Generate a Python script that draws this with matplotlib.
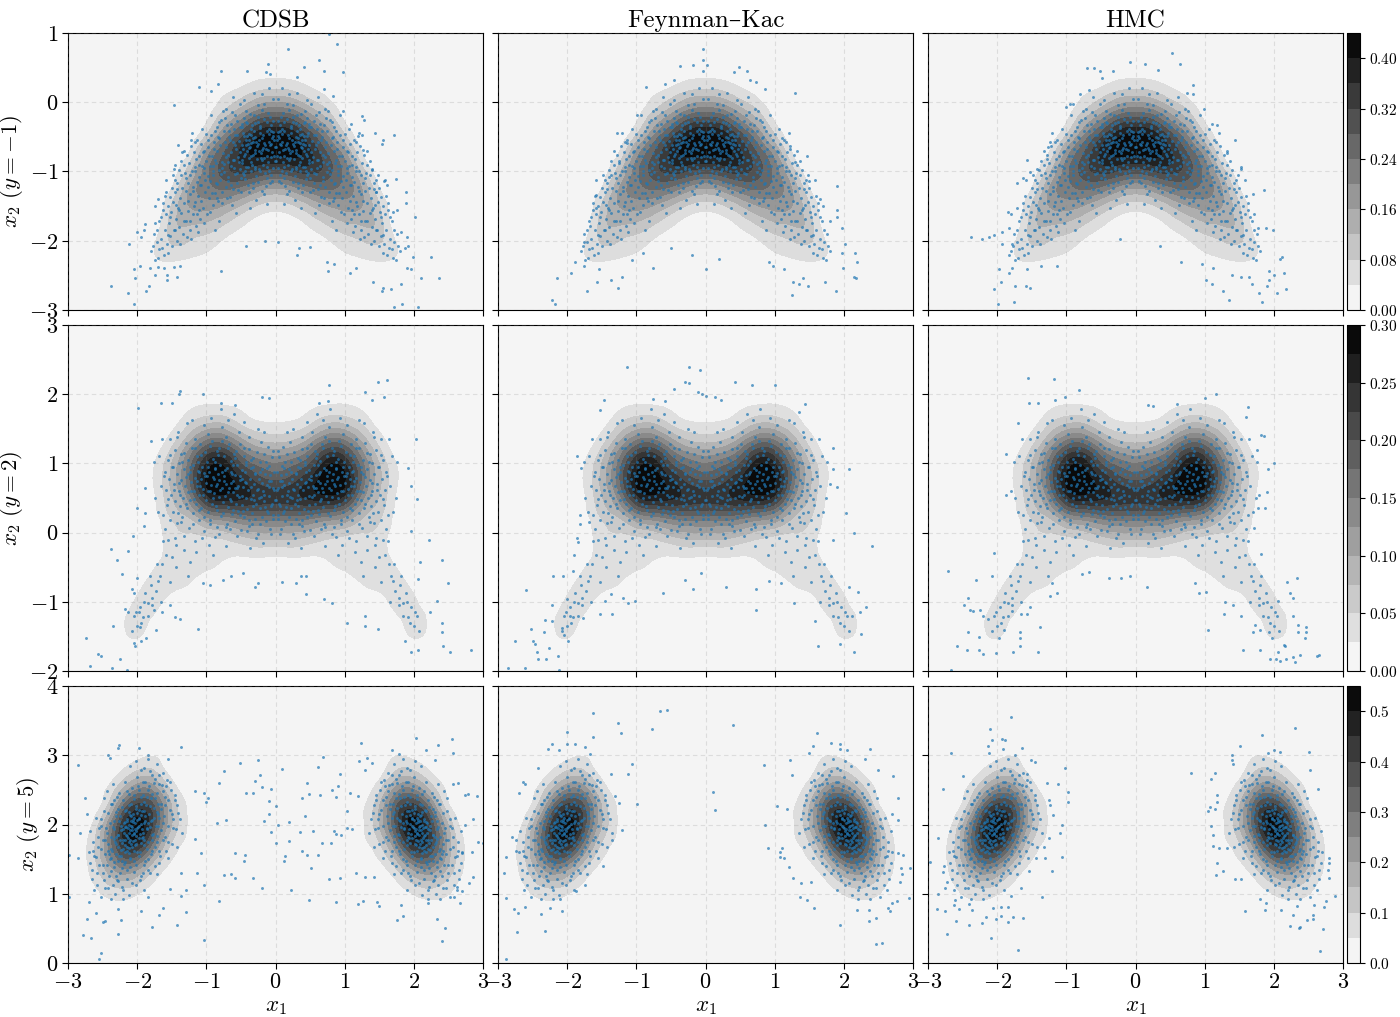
import numpy as np
import matplotlib
matplotlib.use("Agg")
import matplotlib.pyplot as plt
from matplotlib.tri import Triangulation, UniformTriRefiner

METHODS = ["CDSB", "Feynman–Kac", "HMC"]
Y_OBS = ["-1", "2", "5"]

# density, x1 >= 0 half (the picture is mirror symmetric)
GRID_X = [0, 0.25, 0.5, 0.75, 1, 1.25, 1.5, 1.75, 2, 2.25, 2.5, 2.75, 3]

GRID_Y_1 = [1, 0.75, 0.5, 0.25, 0, -0.25, -0.5, -0.75, -1, -1.25, -1.5, -1.75, -2, -2.25, -2.5, -2.75, -3]
DENS_1 = [
    [0, 0, 0, 0, 0, 0, 0, 0, 0, 0, 0, 0, 0],
    [.003, .003, .002, 0, 0, 0, 0, 0, 0, 0, 0, 0, 0],
    [.017, .015, .009, .005, .001, 0, 0, 0, 0, 0, 0, 0, 0],
    [.061, .055, .034, .02, .004, .001, 0, 0, 0, 0, 0, 0, 0],
    [.16, .143, .094, .053, .012, .002, 0, 0, 0, 0, 0, 0, 0],
    [.30, .278, .196, .119, .035, .006, 0, 0, 0, 0, 0, 0, 0],
    [.415, .394, .31, .207, .09, .016, .001, 0, 0, 0, 0, 0, 0],
    [.41, .41, .369, .281, .179, .044, .003, 0, 0, 0, 0, 0, 0],
    [.296, .316, .332, .297, .224, .105, .014, 0, 0, 0, 0, 0, 0],
    [.154, .178, .224, .244, .223, .159, .042, .001, 0, 0, 0, 0, 0],
    [.058, .074, .115, .157, .176, .16, .084, .003, 0, 0, 0, 0, 0],
    [.016, .022, .05, .085, .115, .125, .10, .012, .003, 0, 0, 0, 0],
    [.003, .005, .015, .036, .062, .08, .085, .036, .012, .001, 0, 0, 0],
    [.001, .001, .003, .012, .03, .04, .048, .036, .012, .002, 0, 0, 0],
    [0, 0, 0, .002, .008, .011, .012, .01, .008, .002, 0, 0, 0],
    [0, 0, 0, 0, .002, .002, .002, .002, .002, .001, 0, 0, 0],
    [0, 0, 0, 0, 0, 0, 0, 0, 0, 0, 0, 0, 0],
]

GRID_Y_2 = [3, 2.75, 2.5, 2.25, 2, 1.75, 1.5, 1.25, 1, 0.75, 0.5, 0.25, 0, -0.25, -0.5, -0.75, -1, -1.25, -1.5, -1.75, -2]
DENS_2 = [
    [0, 0, 0, 0, 0, 0, 0, 0, 0, 0, 0, 0, 0],
    [0, 0, 0, 0, 0, 0, 0, 0, 0, 0, 0, 0, 0],
    [0, 0, 0, 0, 0, 0, 0, 0, 0, 0, 0, 0, 0],
    [0, 0, 0, .001, .001, 0, 0, 0, 0, 0, 0, 0, 0],
    [.002, .002, .006, .011, .012, .006, .001, 0, 0, 0, 0, 0, 0],
    [.011, .013, .026, .038, .038, .026, .005, .001, 0, 0, 0, 0, 0],
    [.036, .041, .062, .097, .094, .06, .021, .004, 0, 0, 0, 0, 0],
    [.086, .096, .134, .186, .178, .112, .048, .012, .001, 0, 0, 0, 0],
    [.15, .165, .20, .265, .25, .158, .075, .024, .003, 0, 0, 0, 0],
    [.20, .215, .255, .295, .28, .168, .082, .028, .005, 0, 0, 0, 0],
    [.235, .24, .255, .262, .235, .135, .072, .022, .002, 0, 0, 0, 0],
    [.175, .175, .17, .155, .135, .082, .055, .016, .001, 0, 0, 0, 0],
    [.10, .098, .087, .069, .059, .05, .042, .009, 0, 0, 0, 0, 0],
    [.04, .042, .035, .032, .034, .038, .036, .011, .001, 0, 0, 0, 0],
    [.01, .011, .014, .02, .029, .036, .035, .024, .003, 0, 0, 0, 0],
    [.002, .002, .003, .004, .007, .024, .034, .036, .016, .001, 0, 0, 0],
    [0, 0, 0, 0, .002, .004, .012, .035, .03, .008, 0, 0, 0],
    [0, 0, 0, 0, 0, 0, .003, .018, .036, .017, .002, 0, 0],
    [0, 0, 0, 0, 0, 0, 0, .003, .028, .012, .001, 0, 0],
    [0, 0, 0, 0, 0, 0, 0, 0, .002, .001, 0, 0, 0],
    [0, 0, 0, 0, 0, 0, 0, 0, 0, 0, 0, 0, 0],
]

GRID_Y_3 = [4, 3.75, 3.5, 3.25, 3, 2.75, 2.5, 2.25, 2, 1.75, 1.5, 1.25, 1, 0.75, 0.5, 0.25, 0]
DENS_3 = [
    [0, 0, 0, 0, 0, 0, 0, 0, 0, 0, 0, 0, 0],
    [0, 0, 0, 0, 0, 0, 0, 0, 0, 0, 0, 0, 0],
    [0, 0, 0, 0, 0, 0, 0, 0, 0, 0, 0, 0, 0],
    [0, 0, 0, 0, 0, .002, .008, .013, .008, .004, .001, 0, 0],
    [0, 0, 0, 0, .001, .008, .024, .047, .035, .014, .003, 0, 0],
    [0, 0, 0, 0, .002, .012, .03, .11, .111, .05, .012, .001, 0],
    [0, 0, 0, 0, .004, .02, .09, .23, .255, .136, .037, .005, 0],
    [0, 0, 0, 0, .005, .04, .149, .353, .428, .268, .065, .008, .001],
    [0, 0, 0, 0, .005, .042, .15, .37, .527, .386, .145, .018, .002],
    [0, 0, 0, 0, .003, .035, .10, .283, .473, .407, .179, .041, .004],
    [0, 0, 0, 0, .001, .012, .052, .159, .311, .314, .163, .043, .005],
    [0, 0, 0, 0, 0, .003, .018, .065, .149, .177, .107, .034, .005],
    [0, 0, 0, 0, 0, 0, .004, .02, .053, .073, .052, .019, .003],
    [0, 0, 0, 0, 0, 0, 0, .004, .014, .022, .018, .008, .001],
    [0, 0, 0, 0, 0, 0, 0, 0, .003, .005, .006, .002, 0],
    [0, 0, 0, 0, 0, 0, 0, 0, 0, 0, 0, 0, 0],
    [0, 0, 0, 0, 0, 0, 0, 0, 0, 0, 0, 0, 0],
]

# dense part of the clouds, read for x1 >= 0 and drawn on both sides
CORE_1 = [
    (0.02, -0.55), (0.05, -0.72), (0.09, -0.38), (0.12, -0.93), (0.15, -0.62), (0.18, -0.48), (0.21, -0.81), (0.03, -0.27),
    (0.07, -1.05), (0.11, -0.15), (0.14, -1.21), (0.17, -0.02), (0.2, -0.69), (0.23, -0.34), (0.01, -0.85), (0.06, -0.6),
    (0.1, -0.46), (0.13, -0.77), (0.16, -1.33), (0.19, 0.12), (0.22, -0.99), (0.04, 0.05), (0.08, -0.21), (0.24, -0.55),
    (0.12, -1.47), (0.05, -1.13), (0.18, -0.66), (0.09, 0.21), (0.2, -0.11), (0.03, -0.43),
    (0.27, -0.63), (0.31, -0.41), (0.35, -0.87), (0.39, -0.55), (0.43, -0.28), (0.47, -1.02), (0.29, -0.74), (0.33, -1.16),
    (0.37, -0.17), (0.41, -0.71), (0.45, -0.49), (0.49, -0.83), (0.26, -0.04), (0.3, -0.96), (0.34, -0.33), (0.38, -1.29),
    (0.42, -0.62), (0.46, 0.03), (0.28, -1.41), (0.32, -0.52), (0.36, -0.78), (0.4, -0.93), (0.44, -1.11), (0.48, -0.36),
    (0.25, -0.22), (0.31, 0.14), (0.37, -1.52), (0.43, -0.12), (0.47, -0.67), (0.35, -0.59),
    (0.52, -0.72), (0.56, -0.48), (0.6, -0.95), (0.64, -0.31), (0.68, -1.13), (0.72, -0.65), (0.54, -1.26), (0.58, -0.18),
    (0.62, -0.83), (0.66, -0.55), (0.7, -1.38), (0.74, -0.89), (0.51, -0.03), (0.55, -1.02), (0.59, -0.62), (0.63, -1.49),
    (0.67, -0.41), (0.71, -0.1), (0.53, -0.86), (0.57, -1.6), (0.61, 0.08), (0.65, -1.2), (0.69, -0.76), (0.73, -0.23),
    (0.5, -1.1), (0.6, -0.38),
    (0.77, -0.95), (0.8, -0.62), (0.84, -1.18), (0.88, -0.42), (0.92, -1.31), (0.96, -0.78), (0.78, -1.45), (0.82, -0.28),
    (0.86, -0.88), (0.9, -1.05), (0.94, -1.58), (0.98, -0.55), (0.76, -0.12), (0.81, -1.72), (0.85, -1.38), (0.89, -0.68),
    (0.93, -0.18), (0.97, -1.22), (0.79, -1.03), (0.83, -0.5), (0.87, -1.85), (0.91, -0.92),
    (1.02, -1.12), (1.05, -0.72), (1.08, -1.42), (1.11, -0.9), (1.14, -1.62), (1.17, -0.58), (1.2, -1.28), (1.23, -1.05),
    (1.03, -1.75), (1.06, -0.38), (1.09, -1.2), (1.12, -1.88), (1.15, -0.82), (1.18, -1.5), (1.21, -0.45), (1.24, -1.72),
    (1.04, -0.95), (1.1, -1.55), (1.16, -1.0), (1.22, -1.98),
    (1.27, -1.42), (1.3, -1.1), (1.33, -1.72), (1.36, -0.85), (1.39, -1.55), (1.42, -1.25), (1.45, -1.85), (1.48, -1.05),
    (1.28, -1.95), (1.32, -0.7), (1.38, -2.05), (1.44, -1.48),
    (1.52, -1.65), (1.56, -1.92), (1.6, -1.35), (1.64, -2.1), (1.68, -1.72), (1.72, -2.02), (1.55, -2.18), (1.62, -1.55),
    (1.7, -2.25), (1.76, -1.9), (1.8, -2.15), (1.58, -1.12),
    (0.01, -0.64), (0.03, -0.95), (0.04, -0.49), (0.06, -0.79), (0.07, -0.33), (0.08, -1.17), (0.1, -0.57), (0.11, -0.87),
    (0.13, -0.42), (0.14, -0.68), (0.15, -1.02), (0.16, -0.24), (0.18, -0.91), (0.19, -0.52), (0.2, -1.28), (0.21, -0.74),
    (0.23, -0.44), (0.24, -0.96), (0.25, -0.61), (0.26, -0.29), (0.27, -0.82), (0.28, -1.07), (0.29, -0.5), (0.3, -0.69),
    (0.31, -0.19), (0.32, -1.24), (0.33, -0.58), (0.34, -0.9), (0.35, -0.38), (0.36, -1.0), (0.37, -0.65), (0.38, -0.46),
    (0.39, -0.8), (0.4, -1.19), (0.41, -0.3), (0.42, -0.94), (0.43, -0.54), (0.44, -0.75), (0.45, -0.23), (0.46, -1.05),
    (0.47, -0.44), (0.48, -0.88), (0.49, -0.62), (0.5, -1.3), (0.51, -0.36), (0.52, -0.97), (0.53, -0.56), (0.54, -0.79),
    (0.55, -1.16), (0.56, -0.27), (0.57, -0.68), (0.58, -1.04), (0.59, -0.47), (0.6, -0.84), (0.61, -1.25), (0.62, -0.58),
    (0.63, -0.14), (0.64, -0.92), (0.65, -0.72), (0.66, -1.37), (0.67, -0.5), (0.68, -0.86), (0.69, -1.08), (0.7, -0.33),
    (0.71, -0.79), (0.72, -1.22), (0.73, -0.57), (0.74, -1.01), (0.75, -0.42), (0.76, -0.74), (0.77, -1.29), (0.78, -0.87),
    (0.79, -0.25), (0.8, -1.12), (0.81, -0.52), (0.82, -0.98), (0.83, -1.42), (0.84, -0.71), (0.85, -0.36), (0.86, -1.17),
    (0.87, -0.83), (0.88, -1.31), (0.89, -0.58), (0.9, -0.99), (0.91, -1.49), (0.92, -0.77), (0.93, -0.47), (0.94, -1.14),
    (0.95, -0.92), (0.96, -1.38), (0.97, -0.64), (0.98, -1.07), (0.99, -1.62), (1.0, -0.85), (1.01, -0.46), (1.02, -1.3),
    (1.03, -1.02), (1.04, -0.7), (1.05, -1.52), (1.06, -0.92), (1.07, -1.2), (1.08, -0.61), (1.09, -1.68), (1.1, -1.08),
    (1.11, -0.78), (1.12, -1.36), (1.13, -0.55), (1.14, -1.15), (1.15, -1.78), (1.16, -0.93), (1.17, -1.44), (1.18, -0.72),
    (1.19, -1.22), (1.2, -1.62), (1.21, -1.0), (1.22, -0.63), (1.23, -1.33), (1.24, -1.85), (1.25, -0.88), (1.26, -1.16),
    (1.27, -1.57), (1.28, -0.76), (1.29, -1.28), (1.3, -1.72), (1.31, -1.02), (1.32, -1.45), (1.33, -0.9), (1.34, -1.9),
    (1.35, -1.24), (1.36, -1.6), (1.37, -1.05), (1.38, -1.38), (1.39, -1.8), (1.4, -0.98), (1.41, -1.52), (1.42, -2.0),
    (1.43, -1.17), (1.44, -1.68), (1.45, -1.3), (1.46, -1.12), (1.47, -1.85), (1.48, -1.44), (1.49, -2.08), (1.5, -1.24),
    (1.51, -1.58), (1.52, -1.93), (1.53, -1.37), (1.54, -1.75), (1.56, -1.5), (1.57, -2.05), (1.59, -1.62), (1.6, -1.85),
    (1.61, -2.2), (1.63, -1.45), (1.65, -1.97), (1.66, -1.65), (1.69, -2.12), (1.71, -1.85), (1.74, -2.28), (1.77, -2.08),
    (0.02, -0.77), (0.05, -0.52), (0.09, -1.0), (0.12, -0.28), (0.17, -0.59), (0.19, -0.83), (0.22, -0.37), (0.28, -0.57),
    (0.3, -0.3), (0.33, -0.76), (0.38, -0.66), (0.41, -0.49), (0.44, -0.99), (0.48, -0.31), (0.06, -0.41), (0.11, -0.69),
    (0.16, -0.81), (0.24, -0.71), (0.29, -0.94), (0.35, -0.47), (0.4, -0.6), (0.46, -0.77), (0.13, -1.1), (0.26, -1.15), (0.08, -0.62),
]

CORE_2 = [
    (0.02, 0.61), (0.05, 0.42), (0.08, 0.83), (0.11, 0.28), (0.14, 1.02), (0.17, 0.55), (0.2, 0.71), (0.23, 0.12),
    (0.03, 1.18), (0.06, -0.02), (0.09, 0.66), (0.12, 0.93), (0.15, 0.37), (0.18, -0.15), (0.21, 1.31), (0.24, 0.5),
    (0.04, 0.2), (0.1, 0.75), (0.16, 1.45), (0.22, 0.88),
    (0.27, 0.62), (0.3, 0.85), (0.33, 0.38), (0.36, 1.05), (0.39, 0.18), (0.42, 0.72), (0.45, 1.22), (0.48, 0.53),
    (0.28, -0.08), (0.32, 0.95), (0.35, 0.66), (0.38, 1.38), (0.41, 0.02), (0.44, 0.88), (0.47, 0.31), (0.26, 1.5),
    (0.31, 0.47), (0.37, -0.22), (0.43, 1.02), (0.49, 0.78), (0.34, 0.12), (0.46, 1.6),
    (0.52, 0.82), (0.55, 0.55), (0.58, 1.08), (0.61, 0.33), (0.64, 0.72), (0.67, 1.28), (0.7, 0.12), (0.73, 0.91),
    (0.53, 1.45), (0.56, -0.05), (0.59, 0.65), (0.62, 0.98), (0.65, 0.45), (0.68, 1.62), (0.71, -0.2), (0.74, 0.75),
    (0.51, 0.25), (0.57, 1.18), (0.63, 0.85), (0.69, 0.58), (0.72, 1.38), (0.66, 0.05), (0.54, 0.68), (0.6, 1.72),
    (0.77, 0.88), (0.8, 0.62), (0.83, 1.12), (0.86, 0.38), (0.89, 0.78), (0.92, 1.32), (0.95, 0.18), (0.98, 0.95),
    (0.78, 1.52), (0.81, -0.02), (0.84, 0.7), (0.87, 1.02), (0.9, 0.5), (0.93, 1.65), (0.96, -0.18), (0.99, 0.82),
    (0.76, 0.28), (0.82, 1.22), (0.88, 0.92), (0.94, 0.6), (0.79, 1.78), (0.85, 0.08), (0.91, -0.32), (0.97, 1.42),
    (1.02, 0.82), (1.05, 0.55), (1.08, 1.12), (1.11, 0.32), (1.14, 0.75), (1.17, 1.35), (1.2, 0.12), (1.23, 0.95),
    (1.03, 1.55), (1.06, -0.08), (1.09, 0.68), (1.12, 1.02), (1.15, -0.28), (1.18, 0.48), (1.21, 1.62), (1.24, -0.42),
    (1.04, 0.22), (1.1, 0.88), (1.16, 1.22), (1.22, 0.6),
    (1.27, 0.85), (1.3, 0.42), (1.33, 1.15), (1.36, 0.15), (1.39, 0.72), (1.42, 1.38), (1.45, -0.08), (1.48, 0.95),
    (1.28, 1.58), (1.32, -0.25), (1.38, 0.55), (1.44, -0.5), (1.26, -0.62), (1.35, 1.02), (1.41, 0.28), (1.47, 0.62),
    (1.52, 1.12), (1.55, 0.48), (1.58, -0.32), (1.61, 0.82), (1.64, 1.35), (1.67, -0.62), (1.7, 0.3), (1.73, -0.85),
    (1.53, -0.72), (1.6, 0.05), (1.76, 1.02), (1.8, -0.75), (1.84, -1.02), (1.88, -0.88), (1.92, -1.22), (1.96, -1.08),
    (2.0, -1.35), (2.04, -1.2), (1.72, -0.45), (1.66, -1.0), (1.85, -1.2), (1.62, -0.12), (2.08, -1.42), (1.78, -1.05),
    (0.01, 0.47), (0.02, 0.88), (0.03, 0.26), (0.04, 0.65), (0.05, 1.09), (0.06, 0.38), (0.07, 0.74), (0.08, 0.05),
    (0.09, 0.96), (0.1, 0.53), (0.11, 1.24), (0.12, 0.31), (0.13, 0.69), (0.14, 0.17), (0.15, 0.84), (0.16, 0.45),
    (0.17, 1.13), (0.18, 0.6), (0.19, 0.23), (0.2, 0.92), (0.21, 0.52), (0.22, 1.02), (0.23, 0.36), (0.24, 0.78),
    (0.25, -0.02), (0.26, 0.63), (0.27, 1.17), (0.28, 0.41), (0.29, 0.86), (0.3, 0.2), (0.31, 0.7), (0.32, 1.08),
    (0.33, 0.55), (0.34, 0.29), (0.35, 0.93), (0.36, 0.48), (0.37, 0.78), (0.38, 0.1), (0.39, 1.21), (0.4, 0.62),
    (0.41, 0.34), (0.42, 0.98), (0.43, 0.5), (0.44, 0.73), (0.45, 0.22), (0.46, 1.1), (0.47, 0.66), (0.48, 0.4),
    (0.49, 0.9), (0.5, 0.04), (0.51, 0.76), (0.52, 1.28), (0.53, 0.52), (0.54, 0.31), (0.55, 0.98), (0.56, 0.64),
    (0.57, 0.42), (0.58, 0.83), (0.59, 0.17), (0.6, 1.14), (0.61, 0.58), (0.62, 0.74), (0.63, 0.27), (0.64, 1.03),
    (0.65, 0.87), (0.66, 0.49), (0.67, 0.65), (0.68, 1.22), (0.69, 0.37), (0.7, 0.94), (0.71, 0.7), (0.72, 0.08),
    (0.73, 0.53), (0.74, 1.1), (0.75, 0.82), (0.76, 0.44), (0.77, 0.64), (0.78, 1.33), (0.79, 0.24), (0.8, 0.98),
    (0.81, 0.76), (0.82, 0.51), (0.83, 0.85), (0.84, 1.18), (0.85, 0.33), (0.86, 0.67), (0.87, 0.93), (0.88, -0.06),
    (0.89, 0.57), (0.9, 1.07), (0.91, 0.8), (0.92, 0.41), (0.93, 0.69), (0.94, 1.25), (0.95, 0.13), (0.96, 0.88),
    (0.97, 0.6), (0.98, 0.3), (0.99, 1.02), (1.0, 0.72), (1.01, 0.47), (1.02, 1.17), (1.03, 0.86), (1.04, 0.02),
    (1.05, 0.63), (1.06, 0.95), (1.07, 0.36), (1.08, 0.77), (1.09, 1.28), (1.1, 0.54), (1.11, 0.18), (1.12, 0.89),
    (1.13, 0.68), (1.14, 1.1), (1.15, 0.42), (1.16, 0.79), (1.17, -0.12), (1.18, 0.6), (1.19, 0.98), (1.2, 0.28),
    (1.21, 1.22), (1.22, 0.73), (1.23, 0.47), (1.24, 0.88), (1.25, 0.07), (1.26, 1.05), (1.27, 0.58), (1.28, 0.35),
    (1.29, 0.8), (1.3, 1.3), (1.31, 0.68), (1.32, -0.05), (1.33, 0.92), (1.34, 0.5), (1.35, 0.22), (1.36, 1.13),
    (1.37, 0.76), (1.38, 0.38), (1.39, 1.0), (1.4, 0.6), (1.41, 1.45), (1.42, 0.14), (1.43, 0.84), (1.44, -0.18),
    (1.45, 0.46), (1.46, 1.2), (1.47, 0.7), (1.48, 0.3), (1.49, 0.95), (1.5, -0.35), (1.51, 0.55), (1.52, 1.35),
    (1.53, 0.18), (1.54, 0.78), (1.55, -0.1), (1.56, 1.05), (1.57, 0.4), (1.58, 0.62), (1.6, 0.87), (1.62, 0.25),
    (1.64, -0.45), (1.66, 0.68), (1.68, 1.1), (1.7, -0.7), (1.74, 0.5), (1.78, -0.95), (1.82, -0.62), (1.9, -1.0), (1.94, -1.3), (2.02, -1.15),
]

CORE_3 = [
    (1.72, 2.88), (1.85, 2.95), (1.95, 2.78), (2.1, 2.85), (1.62, 2.75), (1.78, 2.72), (2.02, 2.92), (1.9, 2.82),
    (1.52, 2.62), (1.63, 2.48), (1.74, 2.66), (1.83, 2.55), (1.92, 2.42), (2.0, 2.68), (2.08, 2.52), (2.18, 2.62),
    (2.26, 2.45), (1.45, 2.42), (1.68, 2.58), (1.88, 2.62), (1.97, 2.5), (2.12, 2.44), (2.35, 2.58), (1.78, 2.44), (1.58, 2.55),
    (1.42, 2.28), (1.55, 2.35), (1.65, 2.22), (1.74, 2.38), (1.82, 2.26), (1.9, 2.33), (1.98, 2.21), (2.05, 2.37),
    (2.12, 2.28), (2.2, 2.35), (2.28, 2.23), (2.38, 2.3), (2.48, 2.38), (1.7, 2.3), (1.86, 2.39), (1.95, 2.3),
    (2.02, 2.27), (2.16, 2.21), (2.33, 2.36), (1.6, 2.28),
    (1.38, 2.08), (1.5, 2.15), (1.62, 2.02), (1.72, 2.18), (1.8, 2.05), (1.88, 2.12), (1.94, 2.01), (2.0, 2.16),
    (2.06, 2.06), (2.12, 2.18), (2.18, 2.03), (2.25, 2.12), (2.33, 2.05), (2.42, 2.16), (2.52, 2.08), (1.76, 2.1),
    (1.9, 2.19), (1.98, 2.08), (2.03, 2.02), (2.09, 2.12), (2.15, 2.08), (2.3, 2.18), (1.68, 2.09), (1.84, 2.02),
    (1.35, 1.88), (1.48, 1.95), (1.6, 1.82), (1.7, 1.98), (1.78, 1.85), (1.86, 1.93), (1.93, 1.81), (1.99, 1.96),
    (2.04, 1.86), (2.09, 1.98), (2.14, 1.83), (2.2, 1.93), (2.27, 1.85), (2.35, 1.97), (2.44, 1.88), (2.55, 1.95),
    (2.01, 1.9), (2.07, 1.92), (2.12, 1.88), (1.96, 1.87), (2.18, 1.97), (1.82, 1.96), (2.3, 1.82), (1.72, 1.83),
    (1.42, 1.68), (1.55, 1.75), (1.68, 1.62), (1.78, 1.78), (1.86, 1.65), (1.94, 1.73), (2.0, 1.61), (2.06, 1.76),
    (2.12, 1.66), (2.18, 1.78), (2.24, 1.63), (2.3, 1.72), (2.38, 1.65), (2.46, 1.77), (2.56, 1.68), (2.64, 1.62),
    (2.03, 1.7), (2.09, 1.72), (2.15, 1.68), (1.9, 1.78), (2.22, 1.74), (2.34, 1.79), (1.74, 1.68), (2.42, 1.62),
    (1.55, 1.52), (1.68, 1.45), (1.8, 1.58), (1.9, 1.42), (1.98, 1.55), (2.05, 1.47), (2.12, 1.59), (2.19, 1.43),
    (2.26, 1.54), (2.33, 1.46), (2.41, 1.58), (2.5, 1.42), (2.6, 1.53), (2.68, 1.45), (2.1, 1.5), (2.22, 1.48), (1.85, 1.5), (2.38, 1.52),
    (1.72, 1.28), (1.85, 1.35), (1.96, 1.2), (2.05, 1.32), (2.14, 1.22), (2.22, 1.37), (2.3, 1.25), (2.38, 1.33),
    (2.48, 1.2), (2.58, 1.3), (2.66, 1.22), (2.1, 1.38), (2.28, 1.18), (1.92, 1.3),
    (1.9, 1.05), (2.02, 1.12), (2.12, 0.98), (2.22, 1.1), (2.32, 1.0), (2.42, 1.08), (2.52, 0.95), (2.62, 1.05), (2.2, 0.92), (2.38, 0.93),
    (1.41, 2.17), (1.44, 1.93), (1.46, 2.36), (1.48, 2.08), (1.5, 1.72), (1.51, 2.5), (1.53, 2.21), (1.55, 1.98), (1.57, 2.64), (1.58, 1.62), (1.6, 2.4),
    (1.61, 2.12), (1.62, 1.78), (1.64, 2.57), (1.65, 1.92), (1.66, 2.3), (1.67, 1.55), (1.69, 2.72), (1.7, 2.15), (1.71, 1.75), (1.72, 2.45),
    (1.73, 1.98), (1.74, 1.4), (1.75, 2.6), (1.76, 2.24), (1.77, 1.86), (1.78, 2.07), (1.79, 1.62), (1.8, 2.38), (1.81, 1.3), (1.82, 2.77),
    (1.83, 2.15), (1.84, 1.75), (1.85, 2.5), (1.86, 1.95), (1.87, 2.28), (1.88, 1.48), (1.89, 2.05), (1.9, 1.7), (1.91, 2.62), (1.92, 1.88),
    (1.93, 2.2), (1.94, 1.25), (1.95, 2.4), (1.96, 1.6), (1.97, 2.1), (1.98, 1.8), (1.99, 2.55), (1.9, 2.02), (1.93, 1.93), (1.97, 1.98), (1.94, 2.13), (1.91, 1.82),
    (2.0, 1.95), (2.01, 1.42), (2.02, 2.22), (2.03, 1.78), (2.04, 2.42), (2.05, 1.62), (2.06, 2.03), (2.07, 1.15), (2.08, 1.85), (2.09, 2.3),
    (2.0, 2.07), (2.01, 1.72), (2.03, 1.94), (2.05, 1.88), (2.06, 2.15), (2.08, 1.97), (2.04, 2.1), (2.02, 1.83), (2.07, 1.68), (2.09, 2.05),
    (2.1, 1.52), (2.11, 2.14), (2.12, 1.75), (2.13, 1.95), (2.14, 2.48), (2.15, 1.35), (2.16, 1.85), (2.17, 2.2), (2.18, 1.6), (2.19, 2.02),
    (2.11, 1.92), (2.13, 1.8), (2.15, 2.05), (2.17, 1.7), (2.19, 1.88), (2.12, 2.0), (2.14, 1.62), (2.16, 1.97), (2.18, 1.46), (2.1, 1.78),
    (2.2, 1.78), (2.21, 1.05), (2.22, 2.25), (2.23, 1.55), (2.24, 1.92), (2.25, 1.3), (2.26, 2.05), (2.27, 1.68), (2.28, 1.85), (2.29, 2.4),
    (2.21, 1.65), (2.23, 1.98), (2.25, 1.77), (2.27, 1.48), (2.29, 1.2), (2.3, 1.58), (2.31, 2.12), (2.32, 1.75), (2.33, 1.38), (2.34, 1.93),
    (2.35, 1.12), (2.36, 2.3), (2.37, 1.62), (2.38, 1.82), (2.39, 1.5), (2.4, 2.02), (2.41, 1.25), (2.42, 1.72), (2.43, 2.48), (2.44, 1.42),
    (2.45, 1.95), (2.46, 1.58), (2.47, 1.08), (2.48, 2.2), (2.49, 1.78), (2.5, 1.3), (2.52, 1.65), (2.53, 1.98), (2.55, 1.42), (2.57, 1.82),
    (2.58, 1.12), (2.6, 2.1), (2.62, 1.55), (2.64, 1.75), (2.66, 1.35), (2.68, 1.9), (2.7, 1.6),
]

# sparse points of each panel, read one by one
OUT_CDSB_1 = [
    (.78, .99), (.89, .84), (.18, .77), (.63, .61), (.41, .51), (.70, .45), (.98, .43), (-.11, .55), (-.79, .45), (-.41, .45),
    (.31, .36), (-.14, .43), (-.08, .41), (-.83, .27), (-1.10, .22), (-.93, .16), (.70, .19), (.83, .09), (-1.47, -.04), (.98, -.13),
    (1.09, -.32), (1.25, -.20), (1.28, -.25), (1.19, -.49), (1.25, -.47), (1.44, -.45), (1.72, -.48), (1.56, -.54), (1.54, -.61),
    (1.26, -.69), (-1.22, -.55), (-1.41, -.62), (-1.35, -.72), (-1.45, -.90), (-1.47, -.96), (1.40, -.96), (1.57, -1.13), (1.61, -1.19),
    (1.74, -1.11), (1.45, -1.30), (1.88, -1.30), (1.89, -1.46), (1.76, -1.56), (1.70, -1.58), (2.02, -1.65), (-1.58, -1.29), (-1.70, -1.40),
    (-1.74, -1.50), (-1.74, -1.74), (-1.89, -1.76), (-1.90, -1.84), (-2.00, -1.88), (-1.94, -1.94), (1.82, -1.87), (1.90, -1.94),
    (1.92, -2.07), (-2.12, -2.04), (1.87, -2.11), (1.99, -2.24), (2.25, -2.24), (1.90, -2.40), (1.96, -2.41), (2.11, -2.54), (2.37, -2.54),
    (1.82, -2.63), (1.55, -2.68), (1.67, -2.69), (1.54, -2.73), (1.72, -2.96), (1.83, -2.91), (2.06, -2.96), (1.41, -2.59), (1.08, -2.46),
    (1.17, -2.40), (.85, -2.33), (.75, -2.31), (.76, -2.43), (.31, -2.21), (-.79, -2.44), (-2.38, -2.65), (-2.13, -2.76), (-2.04, -2.91),
    (-2.04, -2.41), (-2.03, -2.54), (-1.96, -2.36), (-1.83, -2.65), (-1.87, -2.72), (-1.81, -2.40), (-1.74, -2.50), (-1.57, -2.50),
    (-1.57, -2.57), (-1.42, -2.53), (-1.38, -2.37), (-1.47, -2.38), (-1.70, -2.38), (-1.61, -2.40), (-.42, -2.08), (.04, -2.02), (-.15, -2.00),
    (.34, -2.11), (.50, -2.09),
]
OUT_FK_1 = [
    (-.03, .77), (-.03, .61), (-.18, .54), (-.37, .52), (.02, .54), (-.03, .45), (.49, .51), (.41, .43), (.60, .45), (-.58, .27), (-.45, .32),
    (-.86, .22), (.86, .19), (1.30, .14), (.65, .32), (.73, .29), (-.99, -.19), (-1.28, -.45), (-1.13, -.59), (1.11, -.52), (1.22, -.68),
    (1.47, -.78), (1.30, -.87), (1.50, -1.13), (-1.25, -.85), (-1.39, -1.08), (1.90, -1.21), (1.66, -1.39), (1.70, -1.50), (-1.58, -1.34),
    (-1.59, -1.52), (1.90, -1.55), (1.90, -1.65), (1.80, -1.71), (1.98, -1.82), (-1.67, -1.78), (-1.75, -2.02), (2.02, -2.04), (2.16, -2.17),
    (2.19, -2.30), (1.98, -2.18), (1.99, -2.40), (2.15, -2.52), (2.18, -2.54), (1.89, -2.72), (1.73, -2.60), (1.48, -2.65), (1.35, -2.63),
    (1.41, -2.54), (1.25, -2.78), (1.27, -2.59), (1.14, -2.41), (.98, -2.36), (.92, -2.31), (.20, -2.26), (.00, -2.41), (-.76, -2.39),
    (-.19, -2.20), (-.50, -2.11), (-.90, -2.18), (-1.06, -2.28), (-1.21, -2.52), (-1.26, -2.68), (-1.36, -2.57), (-1.57, -2.60), (-1.71, -2.73),
    (-1.54, -2.41), (-1.75, -2.37), (-1.94, -2.46), (-1.88, -2.30), (-2.14, -2.54), (-2.22, -2.85), (-2.17, -2.91),
]
OUT_HMC_1 = [
    (.53, .71), (.65, .55), (.14, .55), (-.08, .58), (-.70, .49), (-.60, .49), (-.51, .45), (-.32, .45), (.33, .46), (-.48, .35), (.83, .25),
    (.75, .14), (.83, .12), (-.80, .12), (-.67, .17), (-1.00, -.07), (-.94, -.03), (-.90, -.03), (.99, -.10), (1.11, -.32), (1.18, -.33),
    (1.44, -.55), (1.33, -.74), (1.52, -.93), (1.53, -.97), (-1.24, -.58), (-1.26, -.65), (-1.28, -.82), (-1.57, -.84), (-1.42, -.97),
    (-1.52, -1.01), (-1.62, -1.10), (-1.71, -1.17), (1.86, -1.27), (1.70, -1.33), (1.72, -1.62), (-1.84, -1.59), (-1.72, -1.52), (-1.80, -1.62),
    (-1.83, -1.81), (1.77, -1.81), (1.89, -1.82), (1.99, -1.84), (-2.38, -1.94), (-2.22, -1.97), (-2.12, -1.94), (-2.04, -1.92), (-1.93, -1.88),
    (-1.93, -2.05), (-1.78, -2.05), (-1.83, -2.21), (-1.97, -2.41), (-1.83, -2.47), (-1.78, -2.40), (-1.95, -2.60), (-2.04, -2.70), (-1.99, -2.91),
    (-1.75, -2.88), (-1.74, -2.66), (-1.58, -2.65), (-1.52, -2.68), (-1.57, -2.41), (-1.36, -2.36), (-1.13, -2.37), (2.12, -2.23), (2.09, -2.27),
    (1.93, -2.43), (2.14, -2.47), (2.00, -2.49), (1.93, -2.56), (2.18, -2.69), (2.05, -2.76), (1.90, -2.65), (1.79, -2.75), (1.83, -2.89),
    (1.35, -2.86), (1.27, -2.72), (1.11, -2.63), (1.02, -2.56), (1.12, -2.39), (.96, -2.33), (.66, -2.31), (.36, -2.07), (-.22, -1.97),
    (1.53, -2.53), (1.64, -2.52), (1.40, -2.49), (1.69, -2.63),
]
OUT_CDSB_2 = [
    (1.61, 2.20), (1.48, 2.17), (.78, 2.14), (1.30, 2.03), (1.57, 1.96), (1.40, 1.91), (-1.38, 2.04), (-1.39, 2.00), (-1.05, 2.01), (-1.99, 1.80),
    (-1.65, 1.88), (-1.49, 1.87), (-.79, 1.88), (-.58, 1.84), (-.19, 1.96), (-.09, 1.94), (.76, 1.90), (.63, 1.88), (-1.80, 1.32), (2.03, 1.35),
    (1.92, .93), (1.96, .68), (2.05, .48), (-1.88, .64), (-2.00, .35), (-1.88, .29), (-1.90, .09), (-2.06, -.05), (1.96, .02), (2.22, -.10),
    (-2.38, -.24), (-2.13, -.27), (-2.29, -.40), (-2.22, -.60), (-2.00, -.66), (2.40, -.39), (2.09, -.43), (2.06, -.67), (2.50, -.73), (-.29, -.78),
    (-.25, -.73), (.30, -.73), (.37, -.62), (.44, -.63), (.44, -.89), (.70, -.96), (.82, -1.02), (2.34, -.99), (2.24, -1.15), (2.41, -1.30),
    (2.41, -1.44), (2.42, -1.64), (2.53, -1.72), (2.83, -1.69), (2.06, -1.69), (1.96, -1.73), (1.87, -1.57), (1.48, -1.40), (1.30, -1.35),
    (1.30, -1.21), (1.04, -1.31), (-1.12, -1.40), (-1.45, -1.22), (-1.38, -1.25), (-1.73, -1.41), (-1.96, -1.37), (-2.35, -1.35), (-2.74, -1.53),
    (-2.56, -1.76), (-2.52, -1.79), (-2.68, -1.93), (-2.36, -1.95), (-2.25, -1.83), (-2.14, -1.98), (-2.03, -1.64), (-2.04, -1.59), (-1.94, -1.56),
    (-1.87, -1.53), (-1.52, -1.05), (-1.64, -1.15), (-1.75, -1.12), (-2.17, -1.11), (-2.13, -1.15), (-1.97, -1.15), (-2.07, -.82), (-2.04, -.88),
    (-.76, -.69), (-.64, -.63), (-.94, -.75), (-1.05, -.73), (-.47, -.59), (.10, -.72),
]
OUT_FK_2 = [
    (-1.13, 2.39), (-.24, 2.39), (-.08, 2.35), (-.29, 2.17), (-.24, 2.16), (.43, 2.17), (.67, 2.14), (1.01, 2.13), (-.45, 2.07), (-.11, 2.03),
    (-.05, 2.00), (.00, 1.97), (.14, 1.96), (.23, 1.91), (-1.47, 1.91), (-.76, 1.93), (-.58, 1.90), (1.44, 1.86), (1.35, 1.75), (-1.52, 1.77),
    (-1.86, 1.10), (-1.80, .93), (1.85, 1.22), (1.85, .92), (2.08, .92), (1.90, .66), (1.80, .70), (-1.81, .25), (-1.81, .13), (-1.68, .16),
    (2.03, .29), (2.15, -.01), (2.40, -.20), (1.85, -.10), (-1.86, -.08), (-1.84, -.14), (-1.90, -.33), (-1.91, -.56), (-2.20, -.62), (-2.06, -.62),
    (-2.59, -.83), (-2.00, -.96), (-2.22, -1.04), (-1.96, -1.20), (-1.77, -1.24), (-1.52, -1.18), (-1.35, -1.17), (-1.19, -.95), (-1.02, -.99),
    (-1.12, -1.02), (-1.36, -.89), (-1.45, -.99), (-2.22, -1.28), (-2.32, -1.27), (-2.52, -1.40), (-2.33, -1.43), (-2.07, -1.38), (-2.04, -1.48),
    (-1.99, -1.57), (-2.75, -1.57), (-2.49, -1.56), (-2.46, -1.61), (-2.43, -1.73), (-2.42, -1.82), (-2.30, -1.82), (-2.26, -1.67), (-2.13, -1.79),
    (-2.12, -1.98), (-2.61, -1.96), (-2.85, -1.95), (-.61, -.88), (-.18, -.82), (-.29, -.69), (-.06, -.59), (.30, -.79), (.73, -.82), (.73, -1.12),
    (1.28, -1.02), (.92, -.70), (1.09, -.73), (2.21, -.86), (2.08, -.79), (2.32, -1.08), (2.24, -1.15), (2.12, -1.21), (1.59, -1.28), (2.25, -1.47),
    (1.95, -1.61), (1.63, -1.64), (2.15, -1.72),
]
OUT_HMC_2 = [
    (-1.55, 2.23), (-1.18, 2.22), (-.81, 2.06), (-1.02, 1.96), (-1.54, 1.87), (-1.41, 1.87), (-1.16, 1.91), (1.17, 2.00), (1.01, 1.94), (.60, 1.86),
    (.18, 1.84), (.26, 1.83), (1.63, 1.81), (1.60, 1.67), (-1.70, 1.58), (-1.87, 1.13), (1.82, 1.41), (1.86, 1.39), (1.76, 1.19), (2.00, 1.00),
    (1.92, .92), (1.90, .58), (1.79, .54), (-1.87, .54), (-1.80, .60), (1.87, .35), (1.77, .35), (1.72, .06), (-2.04, -.30), (1.82, -.31),
    (-2.71, -.56), (-2.07, -.63), (-2.30, -.69), (-2.42, -.94), (-2.48, -1.04), (-2.40, -1.12), (-2.35, -1.14), (-2.25, -1.12), (-2.20, -1.21),
    (-2.13, -1.25), (-1.52, -1.07), (-1.57, -1.18), (-1.65, -1.17), (-1.78, -1.14), (-1.38, -1.37), (-1.67, -1.43), (-1.67, -1.53), (-1.67, -1.64),
    (-1.41, -1.72), (-1.77, -1.73), (-2.01, -1.74), (-2.20, -1.76), (-2.26, -1.69), (-2.43, -1.70), (-2.58, -1.64), (-2.67, -1.98), (-2.42, -1.44),
    (-2.26, -1.51), (-1.97, -1.53), (-1.90, -1.41), (-1.23, -.92), (-1.13, -.87), (-1.21, -.73), (-.77, -.60), (-.67, -.57), (-.38, -.66), (-.21, -.66),
    (-.08, -.62), (.17, -.79), (.86, -.73), (.92, -.88), (1.02, -.86), (1.05, -1.41), (1.28, -1.18), (1.30, -1.01), (1.41, -1.04), (1.53, -1.21),
    (2.34, -.65), (2.19, -.72), (2.24, -.88), (2.28, -.94), (2.06, -.99), (2.27, -1.21), (2.35, -1.33), (2.47, -1.37), (2.47, -1.43), (2.35, -1.44),
    (2.45, -1.53), (1.70, -1.44), (1.73, -1.33), (1.80, -1.41), (1.93, -1.44), (1.98, -1.53), (2.14, -1.63), (2.16, -1.64), (1.56, -1.70), (1.80, -1.69),
    (2.06, -1.72), (1.95, -1.82), (2.03, -1.82), (2.09, -1.86), (2.18, -1.82), (2.27, -1.80), (2.31, -1.87), (2.38, -1.77), (2.63, -1.79), (2.66, -1.77),
]
OUT_CDSB_3 = [
    (-2.86, 2.86), (-2.28, 3.10), (-2.26, 3.15), (-1.98, 3.10), (-1.84, 3.01), (-2.42, 3.01), (-2.40, 2.96), (-1.36, 3.12), (-1.55, 2.94), (-2.75, 2.38),
    (-2.72, 2.15), (-2.83, 1.88), (-2.86, 1.52), (-2.99, 1.56), (-2.99, .95), (-2.69, .88), (-2.73, .63), (-2.59, .72), (-2.79, .40), (-2.67, .36),
    (-2.49, .59), (-2.47, .61), (-2.53, .14), (-2.55, .06), (-2.27, .42), (-2.23, .62), (-2.27, .78), (-1.95, .75), (-1.79, .52), (-1.43, .55),
    (-1.29, .74), (-1.68, .69), (-1.63, .79), (-1.84, .95), (-1.53, 1.07), (-1.03, .33), (-.82, .89), (-1.04, 1.13), (-1.14, 1.30), (-1.36, 1.30),
    (-1.29, 1.05), (-1.37, .97), (-1.16, 1.79), (-1.07, 1.59), (-1.00, 2.32), (-.98, 2.38), (-1.16, 2.48), (-1.04, 2.45), (-.82, 2.60), (-.75, 2.77),
    (-.52, 2.89), (-.25, 2.93), (-.22, 2.71), (-.30, 2.63), (-.43, 2.45), (-.19, 2.54), (.09, 2.80), (-.06, 2.51), (-.32, 2.45), (-.71, 2.06),
    (-.84, 2.02), (-.58, 1.59), (-.44, 1.56), (-.74, 1.27), (-.65, 1.28), (-.58, 1.23), (-.33, 1.23), (-.45, 1.47), (-.20, 1.08), (-.17, 2.05),
    (-.09, 2.15), (-.07, 1.89), (.04, 2.00), (.00, 1.74), (-.10, 2.34), (.01, 2.27), (.14, 1.54), (.12, 1.47), (.19, 1.76), (.20, 2.03), (.23, 1.05),
    (.38, 1.62), (.45, 1.56), (.36, 1.89), (.42, 2.12), (.46, 2.60), (.49, 2.44), (.38, 2.38), (.65, 2.42), (.61, 2.83), (.68, 2.97), (.49, .91),
    (.51, 1.37), (.62, 1.56), (.54, 1.90), (.81, 2.50), (.88, 2.40), (.93, 2.73), (.90, 2.55), (.88, 1.86), (.80, 1.73), (.67, 1.73), (.85, 1.90),
    (.94, 1.85), (.78, 1.21), (.93, 1.23), (.87, .88), (1.07, 2.45), (1.03, 2.19), (1.10, 1.93), (1.04, 1.95), (1.19, 2.41), (1.21, 2.91), (1.23, 3.17),
    (1.32, 2.96), (1.30, 2.78), (1.40, 2.89), (1.19, .85), (1.26, .89), (1.47, .88), (1.49, .82), (1.16, 1.30), (1.29, 1.24), (1.42, 1.24), (1.69, 3.07),
    (1.78, 3.02), (2.03, 3.25), (2.35, 3.15), (2.55, 3.23), (2.57, 3.03), (2.17, 3.07), (2.30, 2.93), (2.64, 2.60), (2.57, 2.58), (2.78, 2.44),
    (2.91, 2.41), (2.74, 2.42), (2.74, 1.99), (2.85, 2.08), (2.93, 1.75), (3.00, 1.73), (2.84, 1.60), (2.69, 1.59), (2.85, 1.24), (2.80, 1.15),
    (2.69, 1.04), (2.62, 1.10), (2.67, .87), (2.58, .95), (2.41, .32), (2.45, .51), (2.33, .63), (2.20, .87), (1.85, .68), (1.76, .62), (1.82, .84),
]
OUT_FK_3 = [
    (-1.62, 3.61), (-1.26, 3.46), (-1.22, 3.32), (-1.62, 3.26), (-2.00, 3.33), (-2.22, 3.16), (-2.28, 3.09), (-2.12, 3.07), (-2.00, 3.16), (-1.88, 3.16),
    (-1.74, 3.12), (-1.67, 3.02), (-.77, 3.38), (-.66, 3.64), (-.55, 3.65), (-1.06, 2.87), (-1.12, 2.73), (-1.36, 2.73), (-1.31, 2.41), (-1.25, 2.31),
    (-.99, 2.29), (-1.21, 1.92), (-1.35, 1.77), (-1.48, 1.40), (-1.74, 1.12), (-1.87, 1.04), (-2.07, .75), (-2.10, .92), (-2.25, .79), (-2.38, .71),
    (-2.32, .46), (-2.61, .81), (-2.71, .72), (-2.77, .78), (-2.72, .45), (-2.88, .06), (-2.88, .94), (-2.91, 1.30), (-2.88, 1.53), (-2.74, 1.62),
    (-2.80, 1.82), (-2.74, 1.77), (-2.69, 2.45), (-2.64, 2.61), (-2.61, 2.58), (-2.42, 2.81), (.11, 2.47), (.14, 2.21), (.40, 3.43), (.85, 2.86),
    (1.04, 2.27), (.86, 1.99), (.91, 1.66), (1.11, 1.66), (1.08, 1.60), (1.07, 1.53), (1.14, 1.52), (1.21, 1.38), (1.27, 1.23), (1.18, 2.22), (1.22, 2.93),
    (1.25, 2.71), (1.61, 3.32), (1.82, 3.17), (1.56, 3.13), (1.50, 3.03), (1.95, 3.16), (1.95, 3.09), (2.05, 3.07), (2.38, 3.09), (2.30, 2.94), (2.50, 2.78),
    (2.71, 2.70), (2.79, 2.38), (2.79, 2.06), (2.70, 2.15), (2.79, 1.59), (2.85, 1.56), (2.83, 1.37), (2.96, 1.37), (2.84, 1.28), (2.81, 1.17), (2.94, .94),
    (2.77, .89), (2.70, .87), (2.67, .75), (2.64, .79), (2.47, .65), (2.37, .76), (2.37, .61), (2.55, .29), (2.47, .27), (1.95, .55), (2.19, .76), (1.57, .79),
    (1.37, .95), (1.47, .91), (1.38, 1.15), (1.53, 1.17),
]
OUT_HMC_3 = [
    (-1.80, 3.55), (-2.10, 3.38), (-2.07, 3.22), (-1.93, 3.23), (-1.88, 3.22), (-2.13, 3.13), (-2.12, 3.03), (-1.91, 3.09), (-1.64, 3.10), (-2.67, 3.03),
    (-1.74, 3.00), (-1.51, 2.93), (-1.45, 2.90), (-1.02, 2.81), (-1.57, 2.73), (-2.49, 2.70), (-2.78, 2.51), (-1.28, 2.60), (-1.12, 2.58), (-.97, 2.47),
    (-.97, 2.32), (-1.25, 2.35), (-1.23, 2.28), (-1.19, 2.14), (-1.06, 1.99), (-1.09, 1.88), (-1.25, 1.80), (-1.32, 1.67), (-1.31, 1.52), (-1.44, 1.52),
    (-1.06, 1.53), (-1.21, 1.33), (-1.54, 1.33), (-1.65, 1.08), (-1.35, .95), (-2.85, 1.80), (-2.97, 1.46), (-2.78, 1.31), (-2.77, 1.40), (-2.72, 1.17),
    (-2.75, 1.08), (-2.85, .99), (-2.61, .91), (-2.62, .84), (-2.87, .78), (-2.75, .75), (-2.55, .78), (-2.59, .61), (-2.41, .55), (-2.72, .42), (-2.41, .85),
    (-2.36, .76), (-2.22, .58), (-2.16, .66), (-2.09, .36), (-2.06, .79), (-2.01, .63), (-1.94, .68), (-1.94, .81), (-1.84, .81), (-1.84, .59), (-1.77, .66),
    (-1.62, .65), (-1.70, .19), (-1.80, .97), (.80, 2.74), (1.09, 2.65), (1.15, 2.74), (1.18, 2.42), (1.18, 2.32), (1.07, 2.25), (1.05, 2.20), (1.15, 2.22),
    (1.09, 1.98), (1.12, 1.85), (1.12, 1.69), (1.21, 1.66), (1.33, 1.66), (1.18, 1.44), (1.17, 1.27), (1.27, 1.33), (1.44, 1.21), (1.53, 1.21), (1.80, .92),
    (1.89, .87), (1.87, .76), (1.59, .75), (2.11, .76), (2.28, .69), (2.24, .53), (2.37, .51), (2.38, .52), (2.48, .62), (2.57, .69), (2.57, .63), (2.33, .82),
    (2.58, .84), (2.73, .81), (2.71, .49), (2.67, .17), (2.76, .89), (2.89, .97), (2.31, 3.39), (1.83, 3.29), (1.51, 3.13), (1.40, 3.00), (1.40, 2.93),
    (1.41, 2.87), (1.92, 3.03), (2.00, 3.07), (2.09, 3.04), (2.51, 3.04), (2.53, 2.78), (2.64, 2.51), (2.80, 1.52), (2.80, 1.44), (2.79, 1.34), (2.80, 1.23),
]

LEVELS = [
    [0, .04, .08, .12, .16, .20, .24, .28, .32, .36, .40, .44],
    [0, .025, .05, .075, .10, .125, .15, .175, .20, .225, .25, .275, .30],
    [0, .05, .10, .15, .20, .25, .30, .35, .40, .45, .50, .55],
]
CB_TICKS = [
    [0, .08, .16, .24, .32, .40],
    [0, .05, .10, .15, .20, .25, .30],
    [0, .1, .2, .3, .4, .5],
]
CB_FMT = ["${:.2f}$", "${:.2f}$", "${:.1f}$"]
Y_TICKS = [[-3, -2, -1, 0, 1], [-2, -1, 0, 1, 2, 3], [0, 1, 2, 3, 4]]
Y_LIMS = [(-3, 1), (-2, 3), (0, 4)]
X_TICKS = [-3, -2, -1, 0, 1, 2, 3]

plt.rcParams["mathtext.fontset"] = "cm"
plt.rcParams["font.family"] = ["cmr10", "DejaVu Serif"]
plt.rcParams["axes.formatter.use_mathtext"] = True

W, H = 1400, 1017
LEFTS = [68, 498, 928]
TOPS = [33, 325, 686]
HEIGHTS = [277, 346, 277]
PANEL_W = 415


def add_px_axes(fig, x, y, w, h):
    return fig.add_axes([x / W, 1 - (y + h) / H, w / W, h / H])


def full_field(dens, ys, top):
    half = np.array(dens, dtype=float)
    xs = np.array(GRID_X)
    full = np.hstack([half[:, :0:-1], half])
    full_x = np.r_[-xs[:0:-1], xs]
    gx, gy = np.meshgrid(full_x, np.array(ys))
    tri = Triangulation(gx.ravel(), gy.ravel())
    fine_tri, fine_z = UniformTriRefiner(tri).refine_field(full.ravel(), subdiv=3)
    # the smoothing can overshoot the last level, which would leave a hole
    return fine_tri, np.clip(fine_z, 0, top * 0.999)


fields = [
    full_field(DENS_1, GRID_Y_1, LEVELS[0][-1]),
    full_field(DENS_2, GRID_Y_2, LEVELS[1][-1]),
    full_field(DENS_3, GRID_Y_3, LEVELS[2][-1]),
]
cores = [np.array(CORE_1), np.array(CORE_2), np.array(CORE_3)]
outliers = [
    [OUT_CDSB_1, OUT_FK_1, OUT_HMC_1],
    [OUT_CDSB_2, OUT_FK_2, OUT_HMC_2],
    [OUT_CDSB_3, OUT_FK_3, OUT_HMC_3],
]

fig = plt.figure(figsize=(W / 100, H / 100), dpi=100)
cmap = plt.get_cmap("gray_r")

for r in range(3):
    tri, z = fields[r]
    n_bands = len(LEVELS[r]) - 1
    for c in range(3):
        ax = add_px_axes(fig, LEFTS[c], TOPS[r], PANEL_W, HEIGHTS[r])
        ax.set_facecolor(cmap(0.5 / n_bands))
        cs = ax.tricontourf(tri, z, levels=LEVELS[r], cmap=cmap)
        pts = np.vstack([cores[r], cores[r] * [-1, 1], np.array(outliers[r][c])])
        ax.scatter(pts[:, 0], pts[:, 1], s=4.5, color="tab:blue", alpha=0.7, linewidths=0)

        ax.set_xlim(-3, 3)
        ax.set_ylim(*Y_LIMS[r])
        ax.set_xticks(X_TICKS)
        ax.set_yticks(Y_TICKS[r])
        ax.set_axisbelow(False)
        ax.grid(True, color="gray", alpha=0.2, linewidth=0.8, linestyle=(0, (4, 3)))
        ax.tick_params(labelsize=16, length=4, width=0.8, pad=3)
        if r == 2:
            ax.set_xticklabels([f"${v}$" for v in X_TICKS])
            ax.set_xlabel("$x_1$", fontsize=16.5, labelpad=4)
        else:
            ax.set_xticklabels([])
        if c == 0:
            ax.set_yticklabels([f"${v}$" for v in Y_TICKS[r]])
            ax.set_ylabel(f"$x_2\\ (y={Y_OBS[r]})$", fontsize=16.5, labelpad=3)
        else:
            ax.set_yticklabels([])
        if r == 0:
            ax.set_title(METHODS[c], fontsize=18, pad=4)

    cax = add_px_axes(fig, 1347, TOPS[r], 13, HEIGHTS[r])
    cb = fig.colorbar(cs, cax=cax, ticks=CB_TICKS[r])
    cb.ax.set_yticklabels([CB_FMT[r].format(v) for v in CB_TICKS[r]])
    cb.ax.tick_params(labelsize=11, length=3.5, width=0.8, pad=3)

fig.savefig("out.png", dpi=100)
